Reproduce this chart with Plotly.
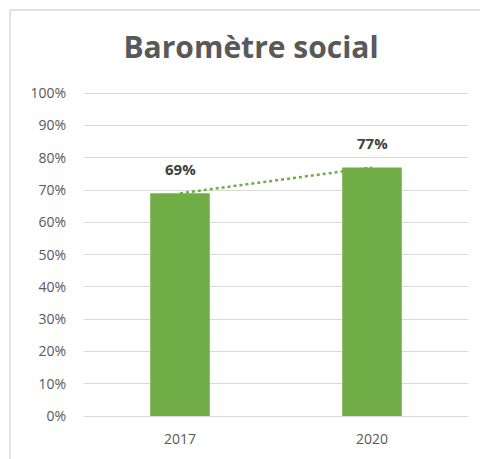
import numpy as np
import plotly.graph_objects as go

categories = ["2017", "2020"]
values = [0.69, 0.77]
labels = ["69%", "77%"]
tick_vals = [i / 10 for i in range(11)]
tick_text = [f"{i*10}%" for i in range(11)]

green = "#70AD47"

xs = np.arange(len(values))
coef = np.polyfit(xs, values, 1)
trend = [float(v) for v in np.polyval(coef, xs)]

fig = go.Figure()
fig.add_trace(go.Scatter(x=categories, y=trend, mode="lines",
                         line=dict(color=green, dash="dot", width=2.5), hoverinfo="skip"))
fig.add_trace(go.Bar(x=categories, y=values, marker=dict(color=green, line=dict(width=0)),
                     width=0.31, hoverinfo="skip"))

for i, (v, t) in enumerate(zip(values, labels)):
    fig.add_annotation(x=i, y=v, text=f"<b>{t}</b>", showarrow=False, yanchor="bottom",
                       yshift=12, font=dict(family="Open Sans", size=15, color="#404040"))

fig.update_layout(
    width=480, height=459,
    margin=dict(l=84, r=12, t=90, b=43),
    paper_bgcolor="white", plot_bgcolor="white",
    showlegend=False,
    title=dict(text="<b>Baromètre social</b>", x=0.523, xref="container", xanchor="center",
               y=1 - 47 / 459, yref="container", yanchor="middle",
               font=dict(family="Open Sans", size=30, color="#595959")),
    xaxis=dict(type="category", range=[-0.5, 1.5], showgrid=False, showline=False, ticks="",
               ticklabelstandoff=13,
               tickfont=dict(family="Open Sans", size=14, color="#595959")),
    yaxis=dict(range=[0, 1.01], tickvals=tick_vals, ticktext=tick_text, showgrid=True,
               gridcolor="#d9d9d9", gridwidth=1, zeroline=True, zerolinecolor="#d9d9d9",
               zerolinewidth=1, showline=False, ticks="", ticklabelstandoff=17,
               tickfont=dict(family="Open Sans", size=14, color="#595959")),
    shapes=[
        dict(type="line", xref="paper", yref="paper", x0=(10 - 84) / 384, x1=(490 - 84) / 384,
             y0=(416 - 10) / 326, y1=(416 - 10) / 326, line=dict(color="#d9d9d9", width=1.5), layer="below"),
        dict(type="line", xref="paper", yref="paper", x0=(10 - 84) / 384, x1=(10 - 84) / 384,
             y0=(416 - 10) / 326, y1=(416 - 470) / 326, line=dict(color="#d9d9d9", width=1.5), layer="below"),
    ],
)

fig.write_html("out.html")
